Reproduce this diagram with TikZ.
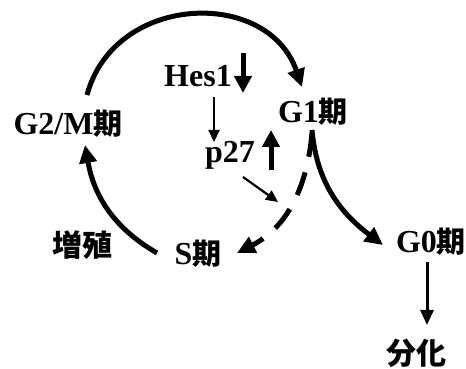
\documentclass[tikz,border=0pt]{standalone}
\usepackage{fontspec}
\setmainfont{Liberation Serif}
\newfontfamily\cjk{Noto Sans CJK JP}
\usetikzlibrary{arrows.meta}
\begin{document}
\begin{tikzpicture}[x=1pt,y=1pt,
  lbl/.style={inner sep=0pt, anchor=base, font=\fontsize{32}{32}\selectfont\bfseries},
  cjklbl/.style={inner sep=0pt, anchor=center, font=\fontsize{30}{30}\selectfont\cjk\bfseries},
  cyc/.style={line width=5pt, -{Triangle[length=18pt,width=17pt]}},
  reg/.style={line width=5pt, -{Triangle[length=17pt,width=17pt]}},
  thinarr/.style={line width=2.2pt, -{Triangle[length=12pt,width=11pt]}},
  diffarr/.style={line width=3pt, -{Triangle[length=15pt,width=13pt]}}]
\useasboundingbox (0,0) rectangle (466,369);
\newcommand{\ki}{{\cjk\fontsize{29}{29}\selectfont 期}}
% labels
\node[lbl] (hes) at (198,282) {Hes1};
\node[lbl] (g2m) at (68,234) {G2/M\ki};
\node[lbl] (g1) at (313,246) {G1\ki};
\node[lbl] (p27) at (230,206) {p27};
\node[lbl] (s) at (198,104) {S\ki};
\node[lbl] (g0) at (431,116) {G0\ki};
\node[cjklbl] (zoshoku) at (82,124) {増殖};
\node[cjklbl] (bunka) at (416,16) {分化};
% coordinates
\coordinate (tA) at (87,274);
\coordinate (tB) at (302,282);
\coordinate (lA) at (157,116);
\coordinate (lB) at (85,224);
\coordinate (gA) at (312,239);
\coordinate (gB) at (383,124);
\coordinate (dA) at (312,236);
\coordinate (dB) at (237,116);
\coordinate (hd1) at (243,316);
\coordinate (hd2) at (243,276);
\coordinate (pu1) at (271,199);
\coordinate (pu2) at (271,239);
\coordinate (hp1) at (214,272);
\coordinate (hp2) at (214,227);
\coordinate (pt1) at (243,192);
\coordinate (pt2) at (278,167);
\coordinate (gb1) at (427,107);
\coordinate (gb2) at (427,44);
% cycle arcs
\draw[cyc] (tA) to[out=75,in=109,looseness=1.25] (tB);
\draw[cyc] (lA) to[out=150,in=-80,looseness=1] (lB);
\draw[cyc] (gA) to[out=-85,in=143,looseness=1] (gB);
\draw[cyc, dash pattern=on 24pt off 16pt] (dA) to[out=-95,in=27,looseness=1] (dB);
% regulation arrows
\draw[reg] (hd1) -- (hd2);
\draw[reg] (pu1) -- (pu2);
\draw[thinarr] (hp1) -- (hp2);
\draw[thinarr] (pt1) -- (pt2);
\draw[diffarr] (gb1) -- (gb2);
\end{tikzpicture}
\end{document}
